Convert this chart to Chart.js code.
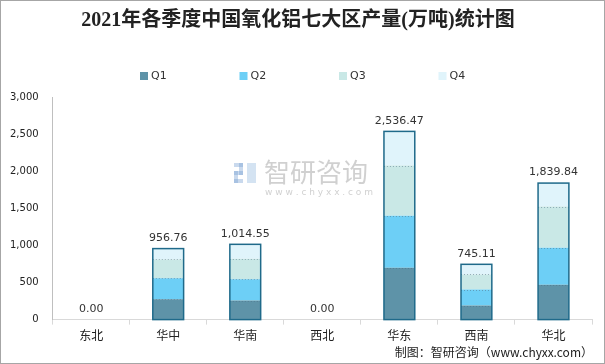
<!DOCTYPE html>
<html>
<head>
<meta charset="utf-8">
<script src="https://cdn.jsdelivr.net/npm/chart.js@4"></script>
<style>
  body { margin: 0; background: #fff; }
  #box { width: 605px; height: 364px; border: 1px solid #a6a6a6; box-sizing: border-box; position: relative; }
  #box canvas { display: block; }
</style>
</head>
<body>
<div id="box"><canvas id="grafico" width="603" height="362"></canvas></div>
<script>
// dados (万吨)
const categorias = ['东北', '华中', '华南', '西北', '华东', '西南', '华北'];
const series = ['Q1', 'Q2', 'Q3', 'Q4'];
const q1 = [0, 274, 257, 0, 698, 189, 469];
const q2 = [0, 284, 288, 0, 702, 216, 500];
const q3 = [0, 253, 276, 0, 676, 203, 554];
const q4 = [0, 145.76, 193.55, 0, 460.47, 137.11, 316.84];
const totais = [0, 956.76, 1014.55, 0, 2536.47, 745.11, 1839.84];

const cores = ['#5e93a8', '#6dcff6', '#c9e8e6', '#e0f4fb'];
const fonteCjk = '"Noto Sans CJK SC", "Noto Sans", sans-serif';

// legenda, contorno de cada pilha, totais e marca d'água
const extras = {
    id: 'extras',
    afterDraw(chart) {
        const ctx = chart.ctx;
        ctx.save();
        ctx.font = '11px "DejaVu Sans", sans-serif';
        ctx.textBaseline = 'middle';
        ctx.textAlign = 'left';
        chart.data.datasets.forEach((ds, i) => {
            const x = 139 + i * 99.5;
            ctx.fillStyle = ds.backgroundColor;
            ctx.fillRect(x, 71, 8, 8);
            ctx.fillStyle = '#333';
            ctx.fillText(ds.label, x + 11, 75.5);
        });
        ctx.restore();
    },
    afterDatasetsDraw(chart) {
        const ctx = chart.ctx;
        const meta = chart.getDatasetMeta(0);
        const y = chart.scales.y;
        ctx.save();
        meta.data.forEach((bar, i) => {
            const largura = bar.width;
            const esq = bar.x - largura / 2;
            const topo = y.getPixelForValue(totais[i]);
            const base = y.getPixelForValue(0);
            if (totais[i] > 0) {
                // linhas pontilhadas entre segmentos
                ctx.strokeStyle = 'rgba(80,110,130,0.5)';
                ctx.lineWidth = 1;
                ctx.setLineDash([1, 2]);
                let acumulado = 0;
                [q1, q2, q3].forEach(serie => {
                    acumulado += serie[i];
                    const py = Math.round(y.getPixelForValue(acumulado)) + 0.5;
                    ctx.beginPath();
                    ctx.moveTo(esq, py);
                    ctx.lineTo(esq + largura, py);
                    ctx.stroke();
                });
                ctx.setLineDash([]);
                ctx.strokeStyle = '#1f6a8a';
                ctx.lineWidth = 1.5;
                ctx.strokeRect(esq, topo, largura, base - topo);
            }
            ctx.fillStyle = '#333';
            ctx.font = '11px "DejaVu Sans", sans-serif';
            ctx.textAlign = 'center';
            ctx.textBaseline = 'bottom';
            ctx.fillText(totais[i].toLocaleString('en-US', { minimumFractionDigits: 2 }), bar.x, topo - 5);
        });

        // marca d'água
        ctx.fillStyle = 'rgba(150,150,150,0.45)';
        ctx.font = '26px ' + fonteCjk;
        ctx.textAlign = 'left';
        ctx.textBaseline = 'middle';
        ctx.fillText('智研咨询', 263, 171);
        ctx.font = '9px "DejaVu Sans", sans-serif';
        ctx.fillText('w w w . c h y x x . c o m', 264, 192);
        ctx.fillStyle = 'rgba(120,160,210,0.4)';
        ctx.fillRect(233, 162, 9, 4);
        ctx.fillRect(238, 162, 4, 12);
        ctx.fillRect(233, 170, 9, 4);
        ctx.fillRect(233, 170, 4, 12);
        ctx.fillRect(233, 178, 9, 4);
        ctx.fillStyle = 'rgba(170,200,230,0.5)';
        ctx.fillRect(246, 162, 9, 20);

        // fonte
        ctx.fillStyle = '#222';
        ctx.font = '12px ' + fonteCjk;
        ctx.textAlign = 'right';
        ctx.textBaseline = 'middle';
        ctx.fillText('制图：智研咨询（www.chyxx.com）', 592, 351);
        ctx.restore();
    }
};

const ctxGrafico = document.getElementById('grafico').getContext('2d');
new Chart(ctxGrafico, {
    type: 'bar',
    data: {
        labels: categorias,
        datasets: [
            { label: series[0], data: q1, backgroundColor: cores[0] },
            { label: series[1], data: q2, backgroundColor: cores[1] },
            { label: series[2], data: q3, backgroundColor: cores[2] },
            { label: series[3], data: q4, backgroundColor: cores[3] }
        ]
    },
    options: {
        responsive: false,
        animation: false,
        layout: { padding: { left: 3, right: 12, bottom: 16 } },
        datasets: { bar: { barPercentage: 0.4, categoryPercentage: 1 } },
        plugins: {
            title: {
                display: true,
                text: '2021年各季度中国氧化铝七大区产量(万吨)统计图',
                color: '#222',
                font: { family: '"Liberation Serif", "Noto Sans CJK SC", serif', size: 20, weight: 'bold' },
                padding: { top: 8, bottom: 64 }
            },
            legend: { display: false },
            tooltip: { enabled: false }
        },
        scales: {
            x: {
                stacked: true,
                grid: { display: true, offset: true, drawOnChartArea: false, tickLength: 5, color: '#d9d9d9' },
                border: { color: '#d9d9d9' },
                ticks: { color: '#222', padding: 4, font: { family: fonteCjk, size: 12 } }
            },
            y: {
                stacked: true,
                min: 0,
                max: 3000,
                grid: { display: false },
                border: { display: true, color: '#bfbfbf' },
                ticks: {
                    stepSize: 500,
                    color: '#222',
                    padding: 6,
                    font: { family: '"DejaVu Sans", sans-serif', size: 10 },
                    callback: valor => valor.toLocaleString('en-US')
                }
            }
        }
    },
    plugins: [extras]
});
</script>
</body>
</html>
